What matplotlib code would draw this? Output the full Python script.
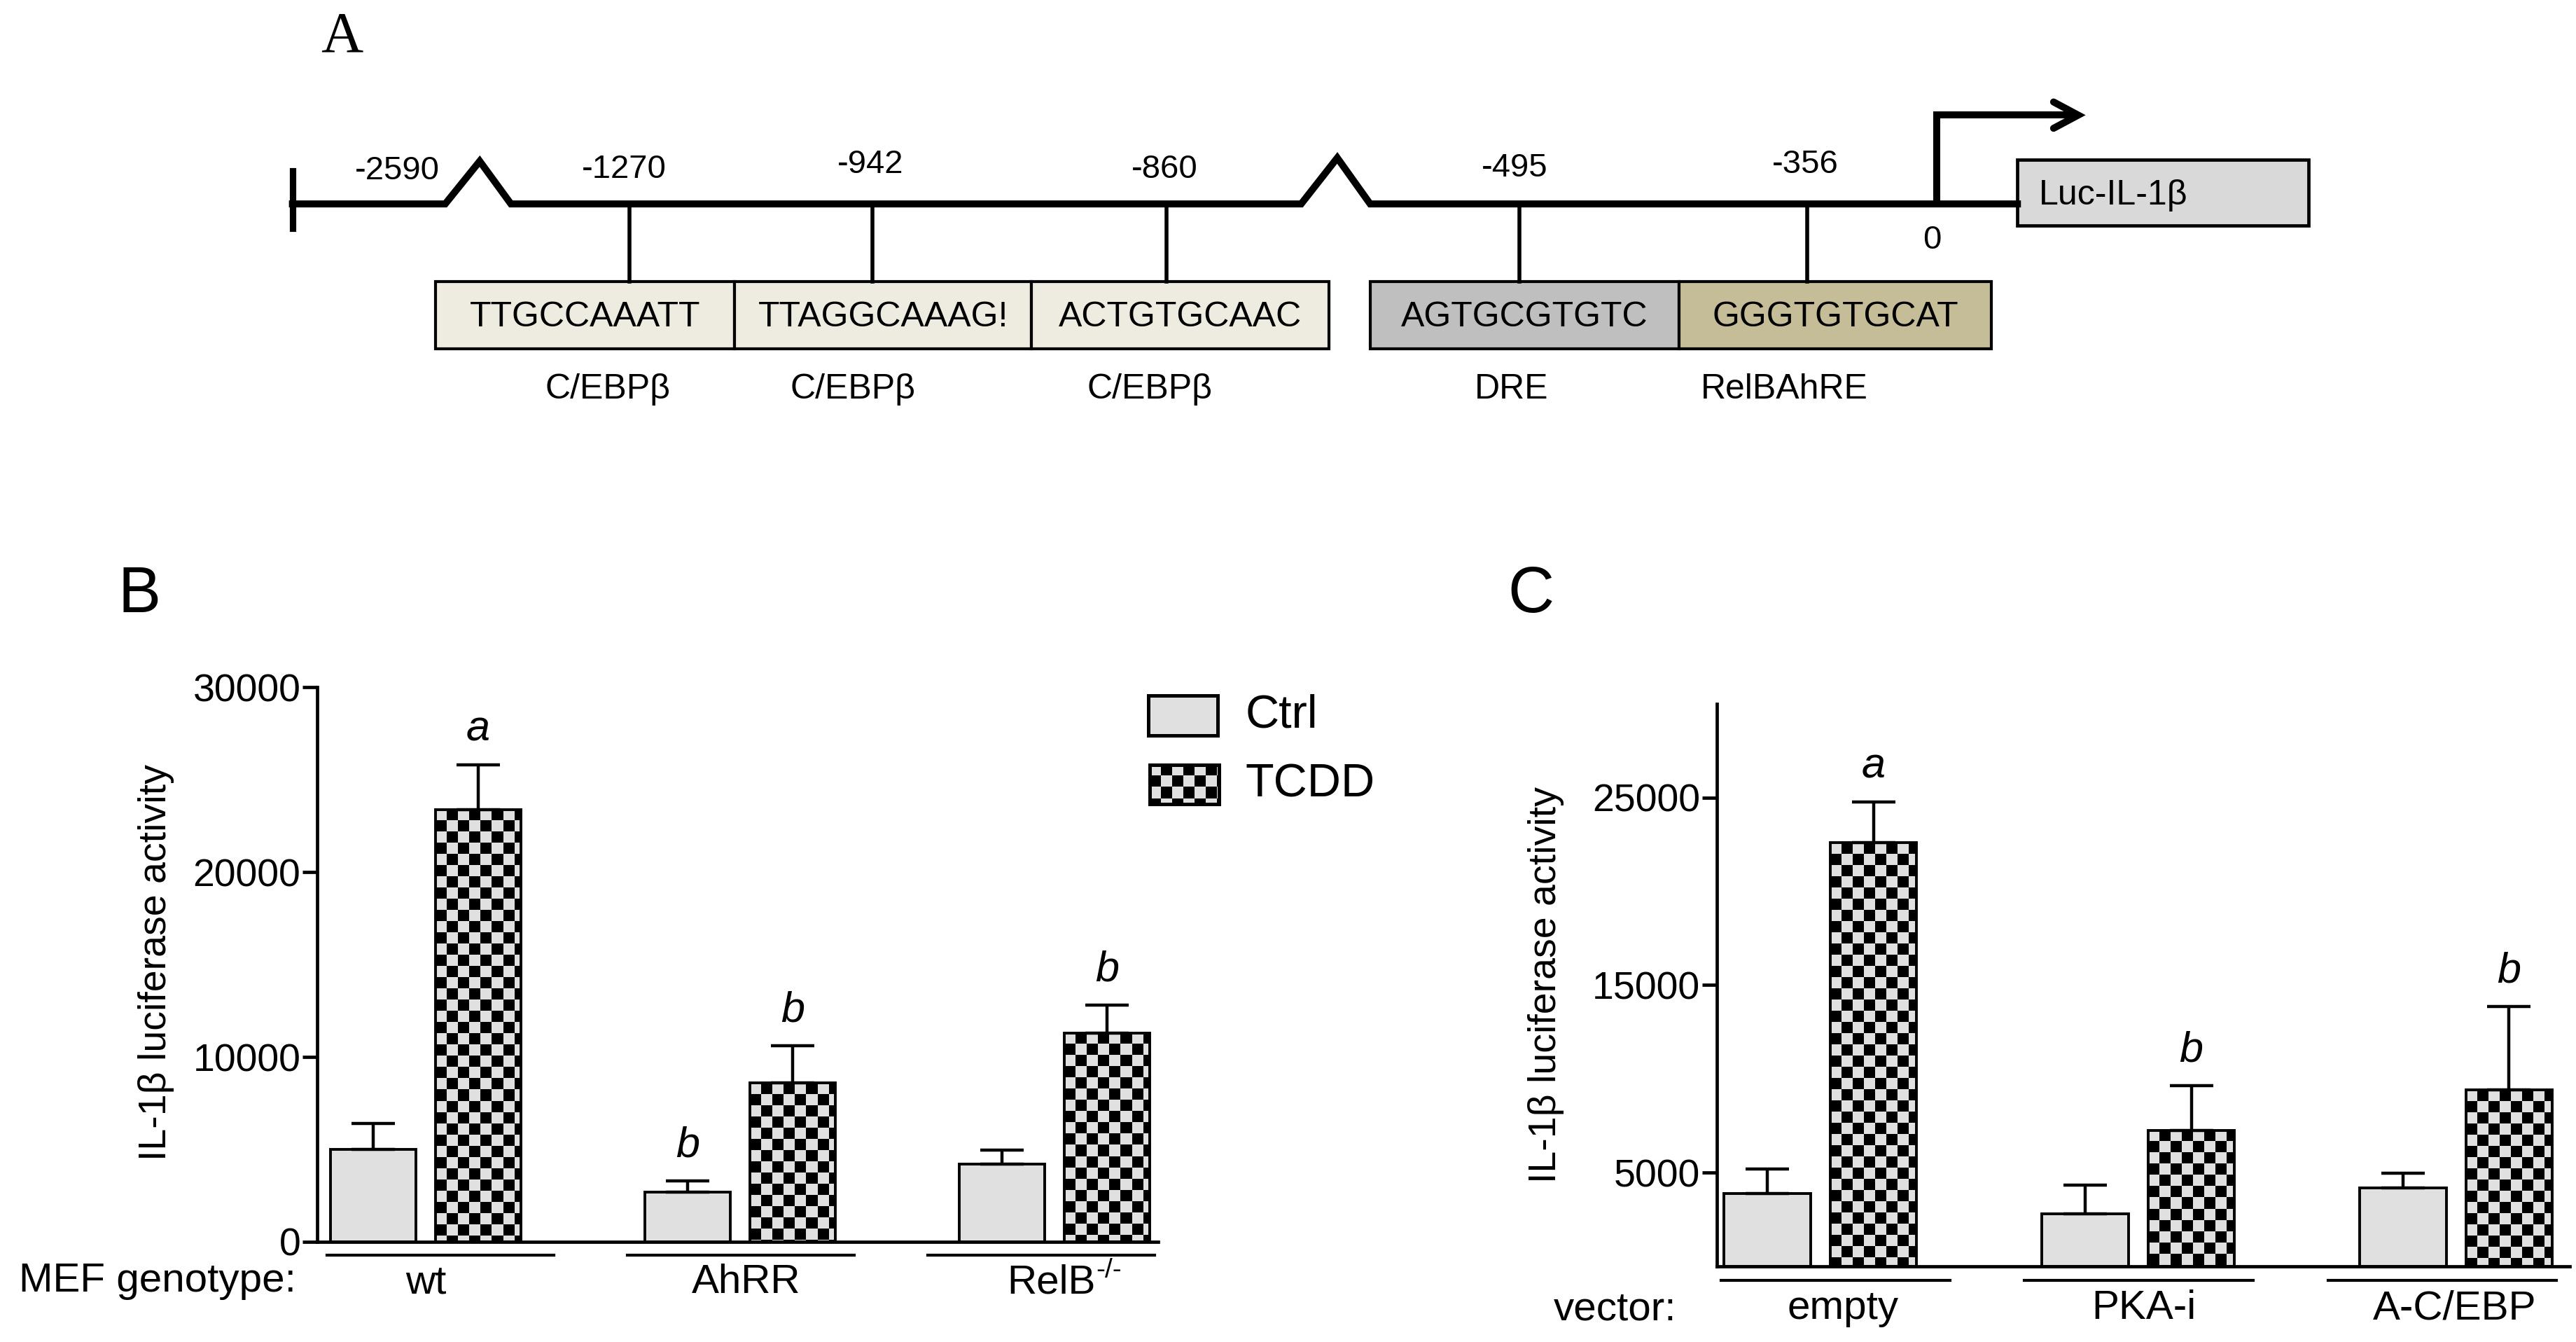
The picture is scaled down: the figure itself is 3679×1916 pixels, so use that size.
import numpy as np
import matplotlib
matplotlib.use('Agg')
import matplotlib.pyplot as plt
from matplotlib.colors import ListedColormap
from matplotlib.patches import Rectangle
from matplotlib.transforms import blended_transform_factory

plt.rcParams['font.family'] = ['Liberation Sans', 'DejaVu Sans']

# --- panel A: IL-1beta promoter map ---
site_labels = ['-2590', '-1270', '-942', '-860', '-495', '-356', '0']
site_sequences = ['TTGCCAAATT', 'TTAGGCAAAG!', 'ACTGTGCAAC',
                  'AGTGCGTGTC', 'GGGTGTGCAT']
site_names = ['C/EBPβ', 'C/EBPβ', 'C/EBPβ', 'DRE', 'RelBAhRE']
site_colors = ['#EEECE1', '#EEECE1', '#EEECE1', '#BFBFBF', '#C4BD97']
reporter = 'Luc-IL-1β'

# --- panel B: MEF genotypes ---
b_groups = ['wt', 'AhRR', 'RelB']
b_group_sup = ['', '', '-/-']
b_ctrl = [5000, 2700, 4200]
b_ctrl_err = [1400, 600, 750]
b_tcdd = [23400, 8600, 11300]
b_tcdd_err = [2400, 2000, 1500]
b_ctrl_sig = ['', 'b', '']
b_tcdd_sig = ['a', 'b', 'b']
b_yticks = [0, 10000, 20000, 30000]

# --- panel C: vectors ---
c_groups = ['empty', 'PKA-i', 'A-C/EBP']
c_group_sup = ['', '', '']
c_ctrl = [3900, 2800, 4200]
c_ctrl_err = [1300, 1550, 750]
c_tcdd = [22600, 7250, 9400]
c_tcdd_err = [2150, 2400, 4450]
c_ctrl_sig = ['', '', '']
c_tcdd_sig = ['a', 'b', 'b']
c_yticks = [5000, 15000, 25000]

YLABEL = 'IL-1β luciferase activity'
CTRL_GREY = '#E0E0E0'
CHECK_PX = 16
checker_cmap = ListedColormap([CTRL_GREY, 'black'])

W, H = 1568, 816   # layout grid (reference pixels / 2.346)
fig = plt.figure(figsize=(18.395, 9.58), dpi=200)
ov = fig.add_axes([0, 0, 1, 1])
ov.set_xlim(0, W); ov.set_ylim(H, 0); ov.axis('off')


def fig_rect(x0, y0, x1, y1):
    return [x0 / W, 1 - y1 / H, (x1 - x0) / W, (y1 - y0) / H]


def checker(ax, x0, x1, y0, y1, clip=None):
    """Square checkerboard, top-left anchored, clipped to a patch."""
    (px0, py0), (px1, py1) = ax.transData.transform([(x0, y0), (x1, y1)])
    cw = (x1 - x0) / abs(px1 - px0) * CHECK_PX
    ch = (y1 - y0) / abs(py1 - py0) * CHECK_PX
    nx = int(np.ceil((x1 - x0) / cw))
    ny = int(np.ceil((y1 - y0) / ch))
    cells = np.indices((ny, nx)).sum(axis=0) % 2
    im = ax.imshow(cells, cmap=checker_cmap, vmin=0, vmax=1,
                   extent=(x0, x0 + nx * cw, y1 - ny * ch, y1),
                   origin='upper', aspect='auto', interpolation='nearest',
                   zorder=2)
    if clip is not None:
        im.set_clip_path(clip)


# ---------------- panel A ----------------
ov.text(208, 23, 'A', family='Liberation Serif', fontsize=30,
        ha='center', va='center')
main_x = [178, 271, 292, 311, 792, 814, 834, 1228]
main_y = [124, 124, 98, 124, 124, 96, 124, 124]
ov.plot(main_x, main_y, color='black', lw=3.6, solid_joinstyle='miter')
ov.plot([178, 178], [104, 139], color='black', lw=3.3)

label_xy = [(242, 104), (380, 103), (530, 100), (709, 103),
            (922, 102), (1099, 100), (1176, 146)]
for lab, (lx, ly) in zip(site_labels, label_xy):
    ov.text(lx, ly, lab, fontsize=17, ha='center', va='center')

connector_x = [383, 531, 710, 925, 1100]
for cx in connector_x:
    ov.plot([cx, cx], [124, 171], color='black', lw=2.0)

box_edges = [(265, 447), (447, 628), (628, 809), (834, 1022), (1022, 1212)]
name_x = [370, 519, 700, 920, 1086]
for (x0, x1), seq, name, col, nx_ in zip(box_edges, site_sequences,
                                          site_names, site_colors, name_x):
    ov.add_patch(Rectangle((x0, 171), x1 - x0, 41, facecolor=col,
                           edgecolor='black', lw=1.5))
    ov.text((x0 + x1) / 2, 193, seq, fontsize=18, ha='center', va='center')
    ov.text(nx_, 237, name, fontsize=18, ha='center', va='center')

# transcription start arrow + reporter
ov.plot([1179, 1179, 1262], [124, 70, 70], color='black', lw=3.6,
        solid_joinstyle='miter')
ov.plot([1250, 1265, 1250], [62, 70, 78], color='black', lw=3.6,
        solid_capstyle='round', solid_joinstyle='miter')
ov.add_patch(Rectangle((1228, 97), 177, 40, facecolor='#D9D9D9',
                       edgecolor='black', lw=1.7))
ov.text(1241, 119, reporter, fontsize=18, ha='left', va='center')


# ---------------- panels B and C ----------------
def bar_panel(ax, groups, sups, ctrl, ctrl_err, tcdd, tcdd_err, ctrl_sig,
              tcdd_sig, xlim, yticks, label_shift, line_y, label_y):
    x = np.arange(len(groups))
    ax.set_xlim(*xlim)
    ax.set_ylim(0, 30000)
    width, off = 0.272, 0.167
    ax.bar(x - off, ctrl, width, facecolor=CTRL_GREY, edgecolor='black',
           lw=1.4, zorder=3)
    t_bars = ax.bar(x + off, tcdd, width, facecolor='none', edgecolor='black',
                    lw=1.4, zorder=3)
    for b in t_bars:
        checker(ax, b.get_x(), b.get_x() + b.get_width(), 0, b.get_height(),
                clip=b)
    for xs, vals, errs, sigs in [(x - off, ctrl, ctrl_err, ctrl_sig),
                                 (x + off, tcdd, tcdd_err, tcdd_sig)]:
        ax.errorbar(xs, vals, yerr=[np.zeros(len(vals)), errs], fmt='none',
                    ecolor='black', elinewidth=1.6, capsize=11, capthick=1.6,
                    zorder=4)
        for xi, v, e, s in zip(xs, vals, errs, sigs):
            if s:
                ax.annotate(s, (xi, v + e), xytext=(0, 18),
                            textcoords='offset points', ha='center',
                            va='center', fontsize=22, style='italic')
    for sp in ['top', 'right']:
        ax.spines[sp].set_visible(False)
    for sp in ['left', 'bottom']:
        ax.spines[sp].set_linewidth(1.7)
    ax.set_xticks([])
    ax.set_yticks(yticks)
    ax.set_yticklabels([str(t) for t in yticks])
    ax.tick_params(axis='y', direction='out', length=7.5, width=1.7,
                   labelsize=20, pad=1)
    ax.patch.set_visible(False)
    tr = blended_transform_factory(ax.transData, ax.transAxes)
    for i, (g, sup) in enumerate(zip(groups, sups)):
        s = -0.313 + 0.955 * i
        ax.plot([s, s + 0.72], [line_y, line_y], color='black', lw=1.5,
                transform=tr, clip_on=False)
        t = ax.text(i + label_shift[i], label_y, g, transform=tr, fontsize=21,
                    ha='center', va='center')
        if sup:
            ax.annotate(sup, xy=(1.0, 0.82), xycoords=t, fontsize=14,
                        ha='left', va='center')


axB = fig.add_axes(fig_rect(193, 418, 705, 755))
bar_panel(axB, b_groups, b_group_sup, b_ctrl, b_ctrl_err, b_tcdd, b_tcdd_err,
          b_ctrl_sig, b_tcdd_sig, (-0.345, 2.329), b_yticks,
          [0.0, 0.02, -0.01], -0.024, -0.074)

axC = fig.add_axes(fig_rect(1045, 428, 1564, 770))
bar_panel(axC, c_groups, c_group_sup, c_ctrl, c_ctrl_err, c_tcdd, c_tcdd_err,
          c_ctrl_sig, c_tcdd_sig, (-0.326, 2.357), c_yticks,
          [0.07, 0.018, -0.005], -0.025, -0.075)

ov.text(85, 362, 'B', fontsize=33, ha='center', va='center')
ov.text(932, 362, 'C', fontsize=33, ha='center', va='center')
ov.text(95, 585, YLABEL, fontsize=20, rotation=90, ha='center', va='center')
ov.text(941, 599, YLABEL, fontsize=20, rotation=90, ha='center', va='center')
ov.text(96, 779, 'MEF genotype:', fontsize=21, ha='center', va='center')
ov.text(983, 796, 'vector:', fontsize=21, ha='center', va='center')

# legend (panel B)
leg_ctrl = fig.add_axes(fig_rect(699, 423, 741, 447))
leg_ctrl.set_facecolor(CTRL_GREY)
leg_tcdd = fig.add_axes(fig_rect(700, 465, 742, 489))
leg_tcdd.set_xlim(0, 1); leg_tcdd.set_ylim(0, 1)
checker(leg_tcdd, 0, 1, 0, 1)
leg_tcdd.set_xlim(0, 1); leg_tcdd.set_ylim(0, 1)
for lax in (leg_ctrl, leg_tcdd):
    lax.set_xticks([]); lax.set_yticks([])
    for sp in lax.spines.values():
        sp.set_linewidth(1.8)
ov.text(758, 435, 'Ctrl', fontsize=24, ha='left', va='center')
ov.text(758, 477, 'TCDD', fontsize=24, ha='left', va='center')

fig.savefig('out.png', dpi=200)
